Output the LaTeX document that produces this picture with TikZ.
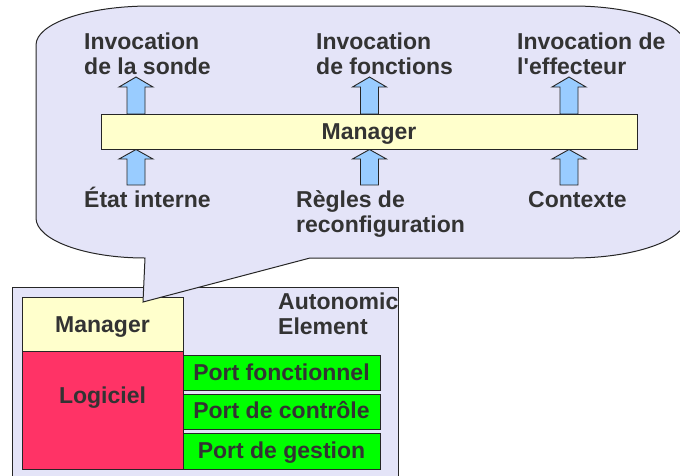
\documentclass[tikz,border=0pt]{standalone}
\usepackage{fontspec}
\setmainfont{Liberation Sans}
\definecolor{txt}{HTML}{333333}
\definecolor{bubble}{HTML}{E4E4F8}
\definecolor{mgr}{HTML}{FFFFCC}
\definecolor{arr}{HTML}{99CCFF}
\definecolor{logi}{HTML}{FF3366}
\definecolor{port}{HTML}{00FF00}
\begin{document}
\begin{tikzpicture}[x=1pt,y=-1pt,
  lbl/.style={inner sep=0pt,font=\fontsize{23}{25}\selectfont\bfseries,text=txt,align=left},
  boxtxt/.style={inner sep=0pt,font=\fontsize{23}{25}\selectfont\bfseries,text=txt},
  frame/.style={draw=black!85,line width=0.9pt},
  blk/.style={draw=black!85,line width=0.9pt,fill=arr}]
\useasboundingbox (0,0) rectangle (680,475);
\clip (0,0) rectangle (680,475);
% Autonomic element
\draw[frame,fill=bubble] (12,287) rectangle (398,490);
\node[lbl,anchor=base west] (ae) at (278,334) {Autonomic\\Element};
\node[frame,fill=mgr,minimum width=161,minimum height=54,inner sep=0pt] (mgrb) at (102.5,324) {};
\node[boxtxt,anchor=base] at (102.5,332) {Manager};
\node[frame,fill=logi,minimum width=161,minimum height=118,inner sep=0pt] (logb) at (102.5,410) {};
\node[boxtxt,anchor=base] at (102.5,403) {Logiciel};
\node[frame,fill=port,minimum width=197,minimum height=35,inner sep=0pt] (p1) at (281.5,372.5) {};
\node[frame,fill=port,minimum width=197,minimum height=35,inner sep=0pt] (p2) at (281.5,411.5) {};
\node[frame,fill=port,minimum width=197,minimum height=36,inner sep=0pt] (p3) at (281.5,451) {};
\node[boxtxt,anchor=base] at (281.5,380) {Port fonctionnel};
\node[boxtxt,anchor=base] at (281.5,418) {Port de contrôle};
\node[boxtxt,anchor=base] at (281.5,458) {Port de gestion};
% Bubble
\draw[draw=black!85,line width=1pt,fill=bubble]
  (36,45) .. controls (36,23.5) and (87,6) .. (150,6)
  -- (573,6) .. controls (635,6) and (686,24) .. (686,46)
  -- (686,218) .. controls (686,240) and (635,258) .. (573,258)
  -- (310,258) -- (143,302) -- (145,258)
  .. controls (85,258) and (36,240) .. (36,218) -- cycle;
% block arrows
\foreach \c in {136,369.5,569}{
  \draw[blk] (\c-9,114) -- (\c-9,87) -- (\c-17,87) -- (\c,77) -- (\c+17,87) -- (\c+9,87) -- (\c+9,114) -- cycle;
  \draw[blk] (\c-9,185) -- (\c-9,159) -- (\c-17,159) -- (\c,149.5) -- (\c+17,159) -- (\c+9,159) -- (\c+9,185) -- cycle;
}
\node[frame,fill=mgr,minimum width=536,minimum height=35,inner sep=0pt] (bar) at (369,131.5) {};
\node[boxtxt,anchor=base] at (369,139) {Manager};
\node[lbl,anchor=base west] (l1) at (84,74) {Invocation\\de la sonde};
\node[lbl,anchor=base west] (l2) at (316,74) {Invocation\\de fonctions};
\node[lbl,anchor=base west] (l3) at (517,74) {Invocation de\\l\textquotesingle effecteur};
\node[lbl,anchor=base west] (b1) at (84,207) {État interne};
\node[lbl,anchor=base west] (b2) at (296,232) {Règles de\\reconfiguration};
\node[lbl,anchor=base west] (b3) at (528,207) {Contexte};
\end{tikzpicture}
\end{document}
